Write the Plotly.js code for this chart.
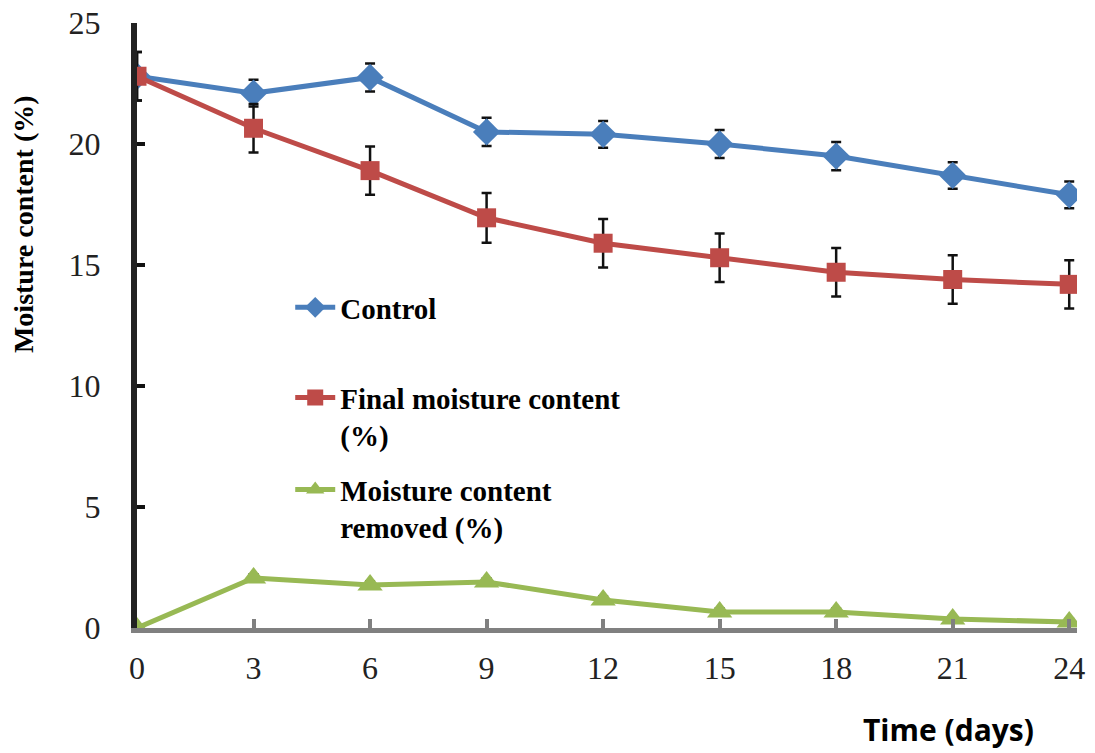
<!DOCTYPE html>
<html>
<head>
<meta charset="utf-8">
<script src="https://cdn.plot.ly/plotly-3.0.1.min.js"></script>
<style>html,body{margin:0;padding:0;background:#fff;}#chart{width:1095px;height:753px;}</style>
</head>
<body>
<div id="chart"></div>
<script>
const days = [0, 3, 6, 9, 12, 15, 18, 21, 24];
const controlVals = [22.8, 22.1, 22.75, 20.5, 20.4, 20.0, 19.5, 18.7, 17.9];
const controlErr = [1.0, 0.55, 0.58, 0.58, 0.55, 0.58, 0.58, 0.55, 0.55];
const finalVals = [22.8, 20.65, 18.9, 16.95, 15.9, 15.3, 14.7, 14.4, 14.2];
const finalErr = [1.0, 1.0, 1.0, 1.03, 1.0, 1.0, 1.0, 1.0, 1.0];
const removedVals = [0, 2.07, 1.78, 1.9, 1.16, 0.66, 0.66, 0.37, 0.25];
const removedErr = [0, 0.15, 0.15, 0.15, 0.15, 0.15, 0.15, 0.12, 0.12];
const xTicks = [0, 3, 6, 9, 12, 15, 18, 21, 24];
const yTicks = [0, 5, 10, 15, 20, 25];
const names = ['Control', 'Final moisture content<br>(%)', 'Moisture content<br>removed (%)'];
const yTitle = 'Moisture content (%)';
const xTitle = 'Time (days)';

const errStyle = {type: 'data', visible: true, color: '#111', thickness: 2.5, width: 5};

const traces = [
  {x: days, y: controlVals, name: names[0], mode: 'lines+markers', legend: 'legend',
   line: {color: '#4a7ebb', width: 5}, marker: {symbol: 'diamond', size: 21, color: '#4a7ebb'},
   error_y: Object.assign({array: controlErr}, errStyle)},
  {x: days, y: finalVals, name: names[1], mode: 'lines+markers', legend: 'legend2',
   line: {color: '#be4b48', width: 5}, marker: {symbol: 'square', size: 19, color: '#be4b48'},
   error_y: Object.assign({array: finalErr}, errStyle)},
  {x: days, y: removedVals, name: names[2], mode: 'lines+markers', legend: 'legend3',
   line: {color: '#98b954', width: 5}, marker: {symbol: 'triangle-up', size: 22, color: '#98b954'},
   error_y: Object.assign({array: removedErr}, errStyle)}
];

const legFont = {family: 'Liberation Serif', size: 29, color: '#000', weight: 'bold'};
const legBase = {font: legFont, bgcolor: 'rgba(0,0,0,0)', borderwidth: 0, valign: 'top',
  xref: 'paper', yref: 'paper', xanchor: 'left', yanchor: 'top', itemwidth: 40};

const layout = {
  width: 1095, height: 753,
  margin: {l: 137, r: 18, t: 23, b: 125},
  paper_bgcolor: '#fff', plot_bgcolor: '#fff',
  showlegend: true,
  legend: Object.assign({x: 0.163, y: 0.572}, legBase),
  legend2: Object.assign({x: 0.163, y: 0.423}, legBase),
  legend3: Object.assign({x: 0.163, y: 0.271}, legBase),
  xaxis: {
    range: [0, 24.2], tickvals: xTicks, ticktext: xTicks.map(String),
    showgrid: false, zeroline: false, showline: true, linecolor: '#808080', linewidth: 5,
    ticks: 'inside', ticklen: 9, tickwidth: 4, tickcolor: '#808080',
    tickfont: {family: 'Liberation Serif', size: 32, color: '#222'},
    ticklabelstandoff: 8
  },
  yaxis: {
    range: [0, 25], tickvals: yTicks, ticktext: yTicks.map(String),
    showgrid: false, zeroline: false, showline: true, linecolor: '#222', linewidth: 6,
    ticks: 'inside', ticklen: 8, tickwidth: 4, tickcolor: '#111',
    tickfont: {family: 'Liberation Serif', size: 32, color: '#222'},
    ticklabelstandoff: 24
  },
  annotations: [
    {text: xTitle, xref: 'paper', yref: 'paper', x: 0.863, y: -0.167,
     xanchor: 'center', yanchor: 'middle', showarrow: false,
     font: {family: 'Open Sans', size: 30, color: '#000', weight: 'bold'}},
    {text: yTitle, xref: 'paper', yref: 'paper', x: -0.12, y: 0.668, textangle: -90,
     xanchor: 'center', yanchor: 'middle', showarrow: false,
     font: {family: 'Liberation Serif', size: 28, color: '#000', weight: 'bold'}}
  ]
};

Plotly.newPlot('chart', traces, layout, {displayModeBar: false, staticPlot: true});
</script>
</body>
</html>
